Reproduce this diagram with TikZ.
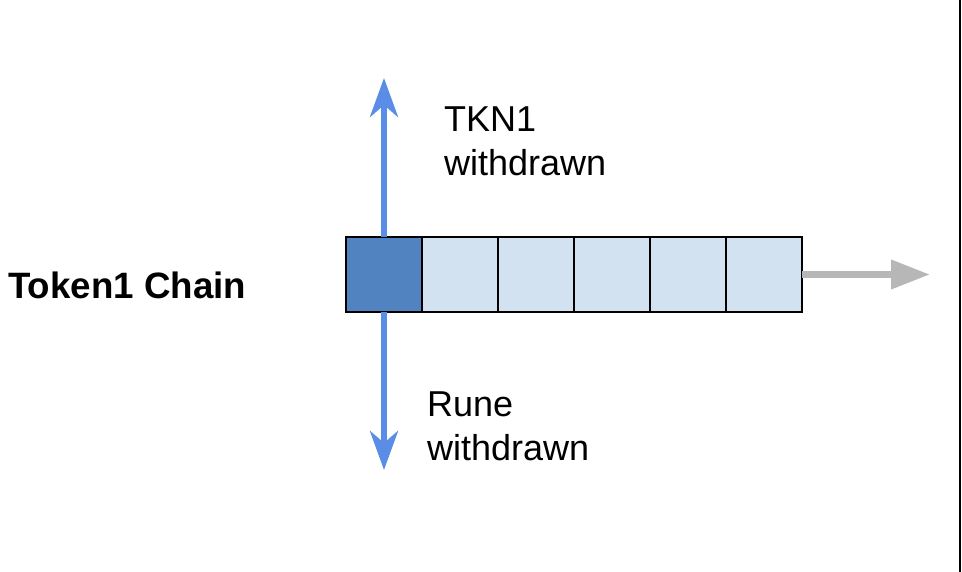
\documentclass[tikz,border=0pt]{standalone}
\usepackage{fontspec}
\setmainfont{Liberation Sans}
\usetikzlibrary{arrows.meta,positioning}
\definecolor{cellblue}{HTML}{5083C0}
\definecolor{celllight}{HTML}{D3E2F1}
\definecolor{flowblue}{HTML}{5A8EE6}
\definecolor{flowgray}{HTML}{B7B7B7}

\begin{document}
\begin{tikzpicture}[x=1pt,y=-1pt,
	cell/.style={draw=black,line width=2pt,fill=celllight,minimum width=76pt,minimum height=75pt,inner sep=0pt,outer sep=0pt},
	lbl/.style={inner sep=0pt,align=left,font=\fontsize{36}{44}\selectfont},
	withdraw/.style={flowblue,line width=6pt,-{Stealth[length=39pt,width=28pt,inset=12pt]}},
	onward/.style={flowgray,line width=7pt,-{Triangle[length=39pt,width=28pt]}}]
		\useasboundingbox (0,0) rectangle (962,572);
		\draw[line width=1.5pt] (960,0) -- (960,572);
		\coordinate (tkntip) at (384,78);
		\coordinate (runetip) at (384,470);
		\coordinate (chaintip) at (930,274.5);
		\node[cell,fill=cellblue] (cell1) at (384,274.5) {};
		\foreach \i [remember=\i as \prev (initially 1)] in {2,...,6}
			\node[cell,right=0pt of cell\prev] (cell\i) {};
		\draw[withdraw] (cell1.north) -- (tkntip);
		\draw[withdraw] (cell1.south) -- (runetip);
		\draw[onward] (cell6.east) -- (chaintip);
		\node[lbl,font=\fontsize{36.7}{44}\selectfont\bfseries,anchor=base west] (chain) at (8,299) {Token1 Chain};
		\node[lbl,anchor=north west] (tkn) at (444,107) {TKN1\\withdrawn};
		\node[lbl,anchor=north west] (rune) at (427,392) {Rune\\withdrawn};
	\end{tikzpicture}
\end{document}
